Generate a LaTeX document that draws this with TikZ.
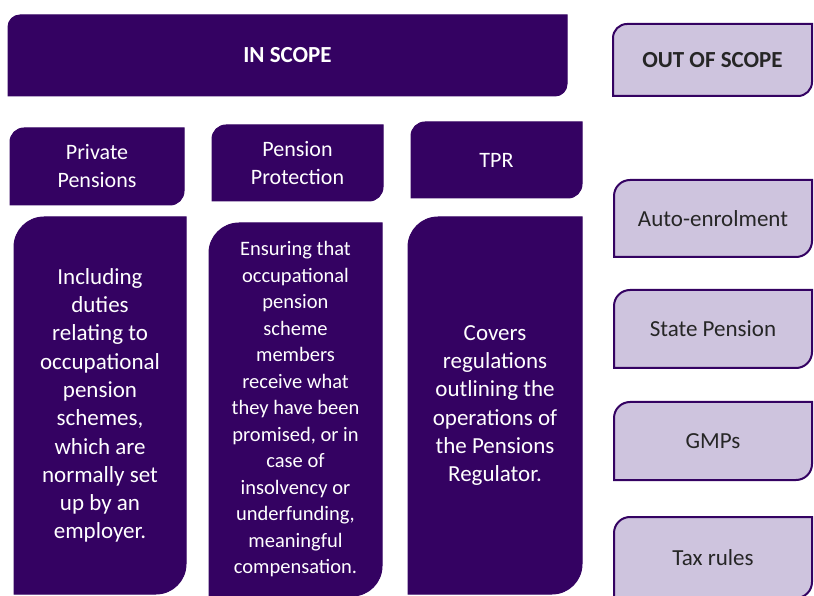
\documentclass[tikz,border=0pt]{standalone}
\usepackage{fontspec}
\setmainfont{Carlito}
\usepackage{tikz}

\definecolor{scopepurple}{RGB}{52,2,98}
\definecolor{scopelilac}{RGB}{206,196,222}

\tikzset{
  inbox/.style={fill=scopepurple,draw=scopepurple,line width=1pt},
  outbox/.style={fill=scopelilac,draw=scopepurple,line width=2pt},
  intext/.style={text=white,align=center,font=\fontsize{22}{28}\selectfont},
  bodytext/.style={text=white,align=center,font=\fontsize{23}{28.3}\selectfont},
  smalltext/.style={text=white,align=center,font=\fontsize{20.5}{26.5}\selectfont},
  outtext/.style={text=black!85,align=center,font=\fontsize{23}{28}\selectfont},
}

% box with rounded top-left and bottom-right corners
% #1 name, #2 box style, #3 text style, #4 left, #5 top, #6 right, #7 bottom, #8 radius, #9 text
\newcommand{\tile}[9]{%
  \filldraw[#2] (#4,#5-#8) arc(180:90:#8) -- (#6,#5) -- (#6,#7+#8)
    arc(0:-90:#8) -- (#4,#7) -- cycle;
  \node[#3] (#1) at ({(#4+#6)/2},{(#5+#7)/2}) {#9};}

\begin{document}
\begin{tikzpicture}[x=1pt,y=1pt]
     \useasboundingbox (0,0) rectangle (814,595);
     \clip (0,0) rectangle (814,595);
     % headings
     \tile{inscope}{inbox}{intext,font=\fontsize{23}{28}\selectfont\bfseries}
          {8}{580}{567}{499}{12}{IN SCOPE}
     \tile{outscope}{outbox}{outtext,font=\fontsize{23}{28}\selectfont\bfseries}
          {613}{571}{812}{499}{14}{OUT OF SCOPE}
     % in scope columns
     \tile{private}{inbox}{intext}{10}{467}{184}{390}{14}{Private\\Pensions}
     \tile{protect}{inbox}{intext}{212}{470}{383}{394}{14}{Pension\\Protection}
     \tile{tpr}{inbox}{intext}{411}{473}{582}{397}{14}{TPR}
     \tile{privatetxt}{inbox}{bodytext}{14}{378}{186}{1}{30}
          {Including\\duties\\relating to\\occupational\\pension\\schemes,\\which are\\normally set\\up by an\\employer.}
     \tile{protecttxt}{inbox}{smalltext}{209}{372}{382}{-1}{30}
          {Ensuring that\\occupational\\pension\\scheme\\members\\receive what\\they have been\\promised, or in\\case of\\insolvency or\\underfunding,\\meaningful\\compensation.}
     \tile{tprtxt}{inbox}{bodytext}{408}{378}{582}{1}{30}
          {Covers\\regulations\\outlining the\\operations of\\the Pensions\\Regulator.}
     % out of scope list
     \tile{autoenrol}{outbox}{outtext}{614}{415}{812}{338}{16}{Auto-enrolment}
     \tile{statepension}{outbox}{outtext}{614}{305}{812}{227}{16}{State Pension}
     \tile{gmps}{outbox}{outtext}{614}{193}{812}{115}{16}{GMPs}
     \tile{taxrules}{outbox}{outtext}{614}{78}{812}{-3}{16}{Tax rules}
    \end{tikzpicture}
\end{document}
